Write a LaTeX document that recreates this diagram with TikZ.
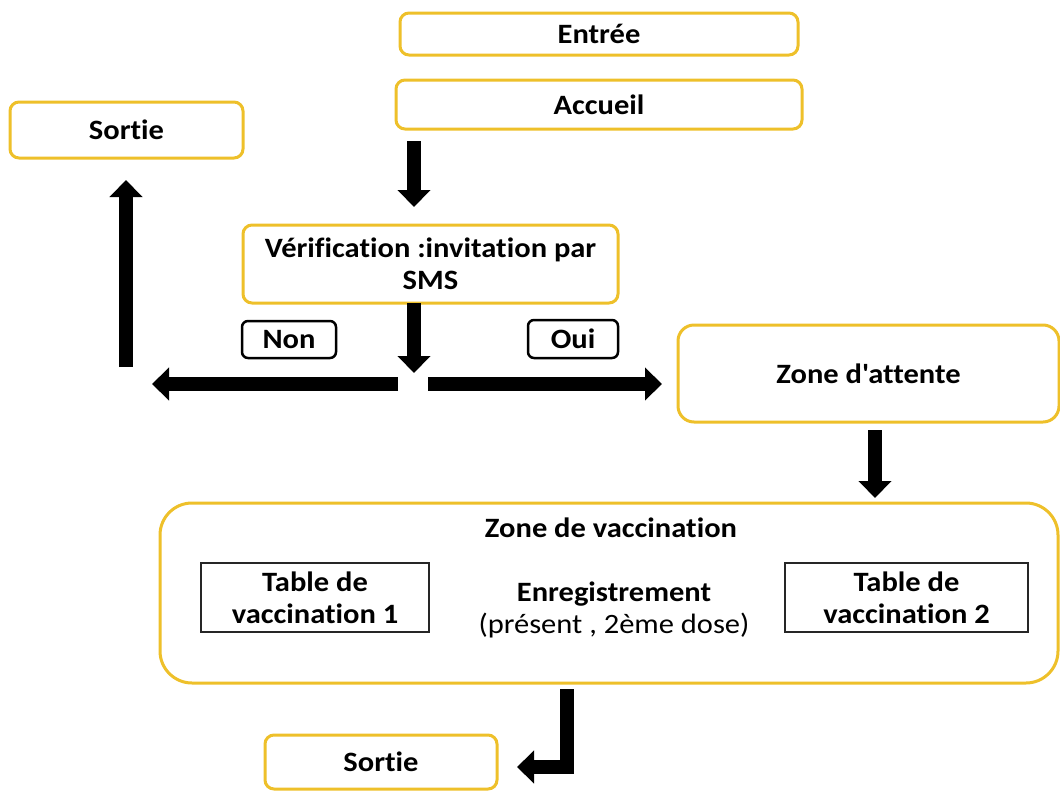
\documentclass[tikz,border=0pt]{standalone}
\usepackage{fontspec}
\setmainfont[Ligatures={NoCommon,TeXOff}, FakeStretch=1.09]{Carlito}
\usetikzlibrary{arrows.meta}
\definecolor{gold}{RGB}{238,192,42}
\tikzset{
  ybox/.style={draw=gold, line width=3pt, rounded corners=9pt, fill=white, align=center, inner sep=0pt,
    font=\fontsize{28}{32}\selectfont\bfseries},
  kbox/.style={draw=black, line width=2.5pt, rounded corners=6pt, fill=white, align=center, inner sep=0pt,
    font=\fontsize{28}{32}\selectfont\bfseries},
  tbox/.style={draw=black!85, line width=1.2pt, fill=white, align=center, inner sep=0pt,
    font=\fontsize{28}{32}\selectfont\bfseries},
  lbl/.style={align=center, inner sep=0pt, font=\fontsize{28}{32}\selectfont},
  blk/.style={line width=14pt, -{Triangle[width=32pt,length=17pt]}},
}
\begin{document}
\begin{tikzpicture}[x=1pt,y=-1pt]
\useasboundingbox (0,0) rectangle (1060,790);
% boxes
\node[ybox, minimum width=398pt, minimum height=42pt] (entree) at (599,34) {Entrée};
\node[ybox, minimum width=406pt, minimum height=49pt] (accueil) at (599,104.5) {Accueil};
\node[ybox, minimum width=233pt, minimum height=56pt] (sortie1) at (126.5,130) {Sortie};
\node[ybox, minimum width=375pt, minimum height=78pt] (verif) at (430.5,264) {Vérification :invitation par\\SMS};
\node[kbox, minimum width=94pt, minimum height=37pt] (non) at (289,339.5) {Non};
\node[kbox, minimum width=90pt, minimum height=38pt] (oui) at (573,339) {Oui};
\node[ybox, rounded corners=16pt, minimum width=381pt, minimum height=97pt] (attente) at (868.5,373.5) {Zone d'attente};
\node[ybox, rounded corners=32pt, minimum width=898pt, minimum height=180pt] (vacc) at (609,593) {};
\node[lbl, font=\fontsize{28}{32}\selectfont\bfseries] (vacclbl) at (611,528) {Zone de vaccination};
\node[tbox, minimum width=228pt, minimum height=69pt] (table1) at (315,597.5) {Table de\\vaccination 1};
\node[tbox, minimum width=243pt, minimum height=69pt] (table2) at (906.5,597.5) {Table de\\vaccination 2};
\node[lbl] (enreg) at (614,610) {\textbf{Enregistrement}\\(présent , 2ème dose)};
\node[ybox, minimum width=232pt, minimum height=54pt] (sortie2) at (381,762) {Sortie};
% arrow end points
\coordinate (a1s) at (414,141);
\coordinate (a1e) at (414,207);
\coordinate (a2s) at (414,303);
\coordinate (a2e) at (414,373);
\coordinate (a3s) at (398,384);
\coordinate (a3e) at (152,384);
\coordinate (a4s) at (126,367);
\coordinate (a4e) at (126,180);
\coordinate (a5s) at (428,384);
\coordinate (a5e) at (662,384);
\coordinate (a6s) at (875,430);
\coordinate (a6e) at (875,498);
\coordinate (a7s) at (567,689);
\coordinate (a7c) at (567,767);
\coordinate (a7e) at (517,767);
% arrows
\draw[blk] (a1s) -- (a1e);
\draw[blk] (a2s) -- (a2e);
\draw[blk] (a3s) -- (a3e);
\draw[blk] (a4s) -- (a4e);
\draw[blk] (a5s) -- (a5e);
\draw[blk] (a6s) -- (a6e);
\draw[blk, line join=miter] (a7s) -- (a7c) -- (a7e);
\end{tikzpicture}
\end{document}
